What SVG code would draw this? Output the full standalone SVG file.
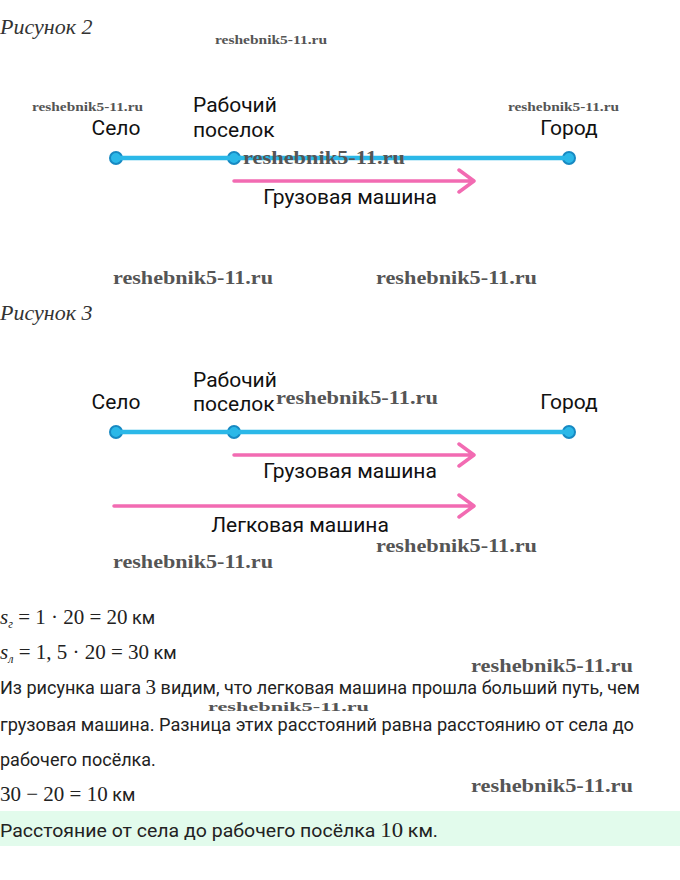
<svg xmlns="http://www.w3.org/2000/svg" width="680" height="880" viewBox="0 0 680 880">
<style>
.cap{font-family:"Liberation Serif",serif;font-style:italic;font-size:22px;fill:#333}
.wm{font-family:"Liberation Serif",serif;font-weight:bold;fill:#555}
.lbl{font-family:Roboto,"Liberation Sans",sans-serif;font-size:21px;fill:#111}
.txt{font-family:Roboto,"Liberation Sans",sans-serif;font-size:18px;fill:#222}
.math{font-family:"Liberation Serif",serif;font-size:21px;fill:#222}
.road{stroke:#2bb8e8;stroke-width:4.5;fill:none}
.dot{fill:#2bb8e8;stroke:#1789c2;stroke-width:2}
.arr{stroke:#f26bb2;stroke-width:3.5;fill:none;stroke-linecap:round;stroke-linejoin:round}
</style>
<rect width="680" height="880" fill="#fff"/>
<text class="cap" x="0" y="34">Рисунок 2</text>
<text class="cap" x="0" y="320">Рисунок 3</text>

<g id="fig2">
  <g id="f2-selo"><text class="lbl" x="116" y="135" text-anchor="middle">Село</text><circle class="dot" cx="116" cy="158" r="6"/></g>
  <g id="f2-poselok"><text class="lbl" x="193" y="112">Рабочий</text><text class="lbl" x="193" y="137">поселок</text><circle class="dot" cx="234" cy="158" r="6"/></g>
  <g id="f2-gorod"><text class="lbl" x="569" y="135" text-anchor="middle">Город</text><circle class="dot" cx="569" cy="158" r="6"/></g>
  <g id="f2-connectors">
    <line class="road" x1="116" y1="158" x2="569" y2="158"/>
    <path class="arr" d="M234 181 H473 M459 170 L474 181 L459 192"/>
  </g>
  <text class="lbl" x="350" y="204" text-anchor="middle">Грузовая машина</text>
</g>

<g id="fig3">
  <g id="f3-selo"><text class="lbl" x="116" y="409" text-anchor="middle">Село</text><circle class="dot" cx="116" cy="432" r="6"/></g>
  <g id="f3-poselok"><text class="lbl" x="193" y="387">Рабочий</text><text class="lbl" x="193" y="411">поселок</text><circle class="dot" cx="234" cy="432" r="6"/></g>
  <g id="f3-gorod"><text class="lbl" x="569" y="409" text-anchor="middle">Город</text><circle class="dot" cx="569" cy="432" r="6"/></g>
  <g id="f3-connectors">
    <line class="road" x1="116" y1="432" x2="569" y2="432"/>
    <path class="arr" d="M234 455 H473 M459 444 L474 455 L459 466"/>
    <path class="arr" d="M114 506 H473 M459 495 L474 506 L459 517"/>
  </g>
  <text class="lbl" x="350" y="478" text-anchor="middle">Грузовая машина</text>
  <text class="lbl" x="300" y="532" text-anchor="middle">Легковая машина</text>
</g>

<g id="text">
  <text class="math" x="0" y="624"><tspan font-style="italic">s</tspan><tspan font-style="italic" font-size="12" dy="4">г</tspan><tspan dy="-4"> = 1 · 20 = 20</tspan><tspan class="txt" font-size="17"> км</tspan></text>
  <text class="math" x="0" y="659"><tspan font-style="italic">s</tspan><tspan font-style="italic" font-size="12" dy="4">л</tspan><tspan dy="-4"> = 1, 5 · 20 = 30</tspan><tspan class="txt" font-size="17"> км</tspan></text>
  <text class="txt" x="0" y="694" textLength="640" lengthAdjust="spacingAndGlyphs">Из рисунка шага <tspan class="math" font-size="20">3</tspan> видим, что легковая машина прошла больший путь, чем</text>
  <text class="txt" x="0" y="731" textLength="634" lengthAdjust="spacingAndGlyphs">грузовая машина. Разница этих расстояний равна расстоянию от села до</text>
  <text class="txt" x="0" y="766">рабочего посёлка.</text>
  <text class="math" x="0" y="801">30 − 20 = 10<tspan class="txt" font-size="17"> км</tspan></text>
  <rect x="0" y="811" width="680" height="35" fill="#e2fbec"/>
  <text class="txt" x="0" y="837" textLength="438" lengthAdjust="spacingAndGlyphs">Расстояние от села до рабочего посёлка <tspan class="math" font-size="21">10</tspan> км.</text>
</g>

<g id="watermarks">
  <text class="wm" x="215" y="44" font-size="13" textLength="112" lengthAdjust="spacingAndGlyphs">reshebnik5-11.ru</text>
  <text class="wm" x="32" y="111" font-size="12" textLength="111" lengthAdjust="spacingAndGlyphs">reshebnik5-11.ru</text>
  <text class="wm" x="508" y="111" font-size="12" textLength="111" lengthAdjust="spacingAndGlyphs">reshebnik5-11.ru</text>
  <text class="wm" x="243" y="164" font-size="18" textLength="162" lengthAdjust="spacingAndGlyphs">reshebnik5-11.ru</text>
  <text class="wm" x="113" y="284" font-size="18" textLength="160" lengthAdjust="spacingAndGlyphs">reshebnik5-11.ru</text>
  <text class="wm" x="376" y="284" font-size="18" textLength="161" lengthAdjust="spacingAndGlyphs">reshebnik5-11.ru</text>
  <text class="wm" x="276" y="404" font-size="18" textLength="162" lengthAdjust="spacingAndGlyphs">reshebnik5-11.ru</text>
  <text class="wm" x="376" y="552" font-size="18" textLength="161" lengthAdjust="spacingAndGlyphs">reshebnik5-11.ru</text>
  <text class="wm" x="113" y="568" font-size="18" textLength="160" lengthAdjust="spacingAndGlyphs">reshebnik5-11.ru</text>
  <text class="wm" x="471" y="672" font-size="18" textLength="162" lengthAdjust="spacingAndGlyphs">reshebnik5-11.ru</text>
  <text class="wm" x="208" y="711" font-size="13" textLength="161" lengthAdjust="spacingAndGlyphs">reshebnik5-11.ru</text>
  <text class="wm" x="471" y="792" font-size="18" textLength="162" lengthAdjust="spacingAndGlyphs">reshebnik5-11.ru</text>
</g>
</svg>
